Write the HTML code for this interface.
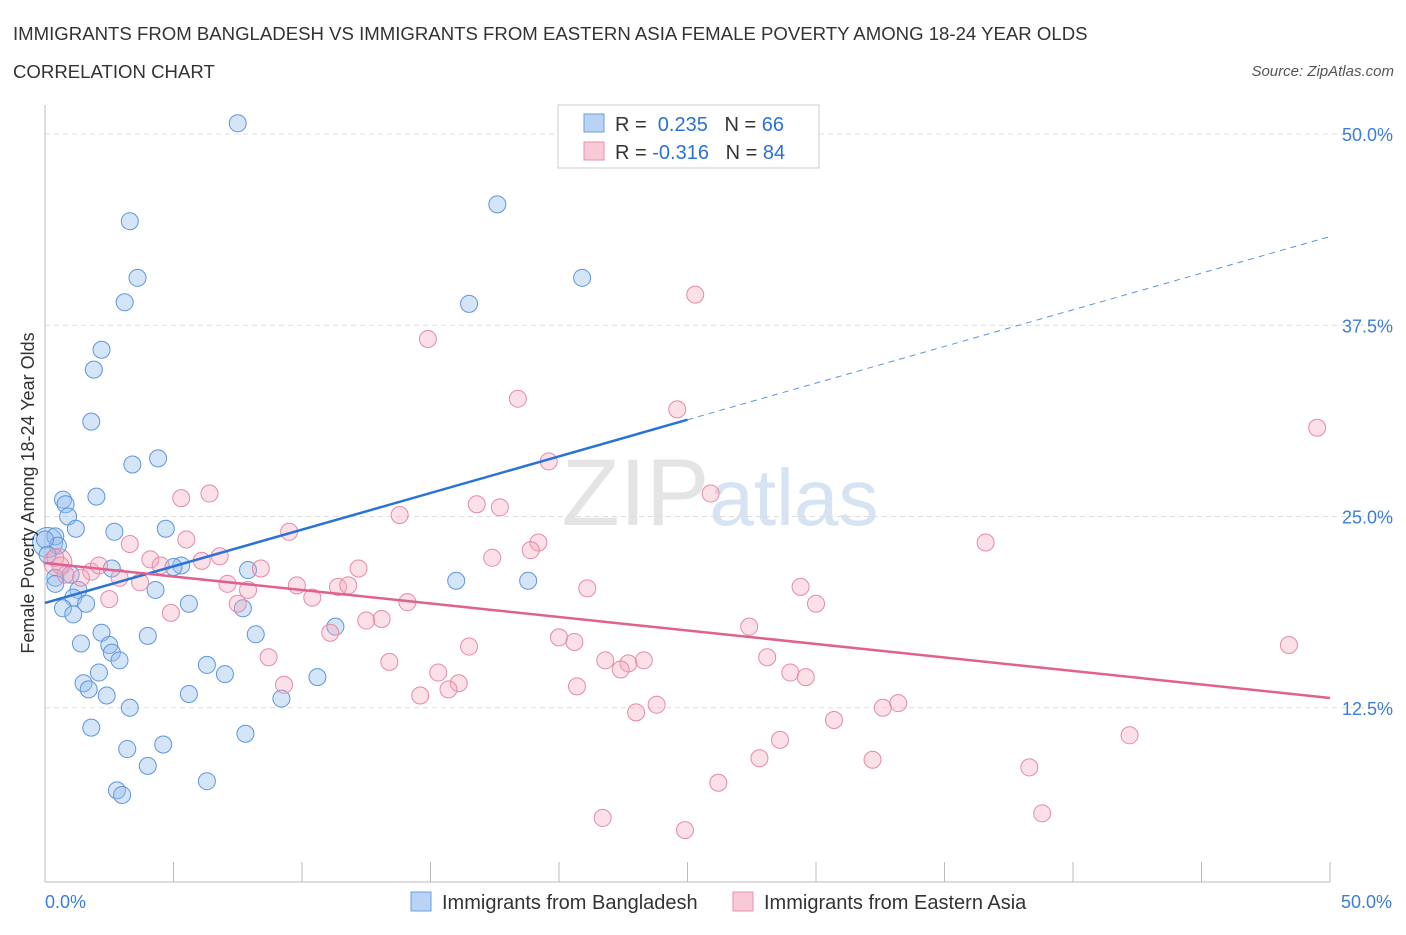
<!DOCTYPE html>
<html><head><meta charset="utf-8"><style>
body{margin:0;background:#fff;font-family:"Liberation Sans",sans-serif}
svg text{font-family:"Liberation Sans",sans-serif}
</style></head><body>
<svg id="chart" width="1406" height="930" xmlns="http://www.w3.org/2000/svg">
<text x="13" y="40" font-size="18.6" fill="#333">IMMIGRANTS FROM BANGLADESH VS IMMIGRANTS FROM EASTERN ASIA FEMALE POVERTY AMONG 18-24 YEAR OLDS</text>
<text x="13" y="78" font-size="18.6" fill="#333">CORRELATION CHART</text>
<text x="1394" y="76" font-size="15" fill="#555" text-anchor="end" font-style="italic">Source: ZipAtlas.com</text>
<text x="720" y="525" font-size="95" text-anchor="middle" fill="#e4e4e4" font-family="Liberation Serif">ZIP<tspan fill="#d5e3f3" font-family="Liberation Sans" font-size="80">atlas</tspan></text>
<g id="grid"></g><g id="axes"></g><g id="pts"></g><g id="trends"></g>
<text transform="translate(34,493) rotate(-90)" font-size="18" fill="#333" text-anchor="middle">Female Poverty Among 18-24 Year Olds</text>
<g>
<rect x="558" y="105" width="261" height="63" fill="#fff" stroke="#ccc"/>
<rect x="584" y="114" width="20" height="18" fill="#b9d3f5" stroke="#6a9de2"/>
<rect x="584" y="142" width="20" height="18" fill="#f9c9d7" stroke="#e88fab"/>
<text x="615" y="131" font-size="20" fill="#333">R = <tspan fill="#2a72d8">&#160;0.235</tspan>&#160;&#160;&#160;N = <tspan fill="#2a72d8">66</tspan></text>
<text x="615" y="159" font-size="20" fill="#333">R = <tspan fill="#2a72d8">-0.316</tspan>&#160;&#160;&#160;N = <tspan fill="#2a72d8">84</tspan></text>
</g>
<g>
<rect x="411" y="892" width="20" height="19" fill="#b9d3f5" stroke="#6a9de2"/>
<text x="442" y="909" font-size="20" fill="#333">Immigrants from Bangladesh</text>
<rect x="733" y="892" width="20" height="19" fill="#f9c9d7" stroke="#e88fab"/>
<text x="764" y="909" font-size="20" fill="#333">Immigrants from Eastern Asia</text>
</g>
</svg>
<script>
const yTicks=[12.5,25,37.5,50];
const yTickLabels=["12.5%","25.0%","37.5%","50.0%"];
const xTickLabels=["0.0%","50.0%"];
const blueX=[7.5,17.6,3.3,3.6,20.9,3.1,16.5,2.2,1.9,1.8,4.4,3.4,0.7,2.0,0.8,0.9,1.2,4.7,2.7,0.4,0.5,0.0,0.1,2.6,5.3,5.0,7.9,16.0,18.8,0.4,1.0,0.4,1.3,1.1,4.3,1.6,5.6,7.7,0.7,1.1,2.2,4.0,8.2,11.3,1.4,2.5,2.6,2.9,6.3,7.0,2.1,1.5,1.7,2.4,5.6,9.2,10.6,3.3,1.8,7.8,4.6,3.2,4.0,2.8,3.0,6.3];
const blueY=[50.7,45.4,44.3,40.6,40.6,39.0,38.9,35.9,34.6,31.2,28.8,28.4,26.1,26.3,25.8,25.0,24.2,24.2,24.0,23.7,23.1,23.5,22.5,21.6,21.8,21.7,21.5,20.8,20.8,21.0,21.2,20.6,20.2,19.7,20.2,19.3,19.3,19.0,19.0,18.6,17.4,17.2,17.3,17.8,16.7,16.6,16.1,15.6,15.3,14.7,14.8,14.1,13.7,13.3,13.4,13.1,14.5,12.5,11.2,10.8,10.1,9.8,8.7,7.1,6.8,7.7];
const pinkX=[25.3,14.9,18.4,24.6,49.5,19.6,5.3,6.4,25.9,16.8,17.7,13.8,9.5,36.6,3.3,5.5,19.2,18.9,17.4,4.1,0.4,0.6,6.8,6.1,4.5,0.8,1.8,1.4,2.1,8.4,12.2,2.9,3.7,7.1,9.8,11.4,10.4,11.8,21.1,29.4,7.9,2.5,7.5,14.1,30.0,4.9,12.5,13.1,11.1,20.0,20.6,27.4,16.5,48.4,8.7,13.4,21.8,28.1,23.3,22.7,22.4,15.3,29.0,29.6,16.1,9.3,15.7,20.7,14.6,33.2,23.8,32.6,23.0,30.7,28.6,42.2,27.8,32.2,38.3,26.2,38.8,21.7,24.9];
const pinkY=[39.5,36.6,32.7,32.0,30.8,28.6,26.2,26.5,26.5,25.8,25.6,25.1,24.0,23.3,23.2,23.5,23.3,22.8,22.3,22.2,22.3,21.8,22.4,22.1,21.8,21.2,21.4,21.0,21.8,21.6,21.6,21.0,20.7,20.6,20.5,20.4,19.7,20.5,20.3,20.4,20.2,19.6,19.3,19.4,19.3,18.7,18.2,18.3,17.4,17.1,16.8,17.8,16.5,16.6,15.8,15.5,15.6,15.8,15.6,15.4,15.0,14.8,14.8,14.5,14.1,14.0,13.7,13.9,13.3,12.8,12.7,12.5,12.2,11.7,10.4,10.7,9.2,9.1,8.6,7.6,5.6,5.3,4.5];
const bigBlueX=[0.1];
const bigBlueY=[23.3];
const bigPinkX=[0.5];
const bigPinkY=[22.0];
const blueTrend=[19.35,43.3];
const blueSolidEnd=25.0;
const pinkTrend=[21.96,13.14];
const X0=45,X1=1330,Y0=899,Y50=134;
const sx=v=>X0+(X1-X0)*v/50;
const sy=v=>Y0-(Y0-Y50)*v/50;
const NS="http://www.w3.org/2000/svg";
function mk(tag,attrs,parent){const e=document.createElementNS(NS,tag);for(const k in attrs)e.setAttribute(k,attrs[k]);document.getElementById(parent).appendChild(e);return e;}
yTicks.forEach((t,i)=>{
 const g=mk('line',{x1:X0,x2:X1+60,y1:sy(t),y2:sy(t),stroke:'#ddd','stroke-dasharray':'5,4'},'grid');
 
 
 const tx=mk('text',{x:1393,y:sy(t)+7,'font-size':18,fill:'#3b7dd8','text-anchor':'end'},'axes');
 tx.textContent=yTickLabels[i];
 
 
});
const ya=mk('line',{x1:X0,x2:X0,y1:105,y2:882,stroke:'#bbb'},'axes');


const xa=mk('line',{x1:X0,x2:X1,y1:882,y2:882,stroke:'#bbb'},'axes');


for(let i=0;i<=10;i++){const t=mk('line',{x1:sx(i*5),x2:sx(i*5),y1:862,y2:882,stroke:'#bbb'},'axes');
 
 }
[[0,'start',45],[50,'end',1392]].forEach((d,i)=>{const t=mk('text',{x:d[2],y:908,'font-size':18,fill:'#3b7dd8','text-anchor':d[1]},'axes');t.textContent=xTickLabels[i];
 
 });
function pts(xs,ys,fill,stroke,name,r){xs.forEach((x,i)=>{const c=mk('circle',{cx:sx(x),cy:sy(ys[i]),r:r,fill:fill,stroke:stroke,'stroke-width':1},'pts');
 
 });}
pts(bigBlueX,bigBlueY,'rgba(150,190,238,0.4)','#5f95de','bangladesh-point-large',15);
pts(bigPinkX,bigPinkY,'rgba(245,165,190,0.35)','#e58aa8','eastern-asia-point-large',14);
pts(blueX,blueY,'rgba(150,190,238,0.4)','#5f95de','bangladesh-point',8.5);
pts(pinkX,pinkY,'rgba(245,165,190,0.35)','#e58aa8','eastern-asia-point',8.5);
const bAt=v=>blueTrend[0]+(blueTrend[1]-blueTrend[0])*v/50;
const l1=mk('line',{x1:sx(0),y1:sy(blueTrend[0]),x2:sx(blueSolidEnd),y2:sy(bAt(blueSolidEnd)),stroke:'#2a72d8','stroke-width':2.5},'trends');


const l2=mk('line',{x1:sx(blueSolidEnd),y1:sy(bAt(blueSolidEnd)),x2:sx(50),y2:sy(blueTrend[1]),stroke:'#5b93e0','stroke-width':1,'stroke-dasharray':'6,5'},'trends');


const l3=mk('line',{x1:sx(0),y1:sy(pinkTrend[0]),x2:sx(50),y2:sy(pinkTrend[1]),stroke:'#e0608e','stroke-width':2.5},'trends');


</script>
</body></html>
